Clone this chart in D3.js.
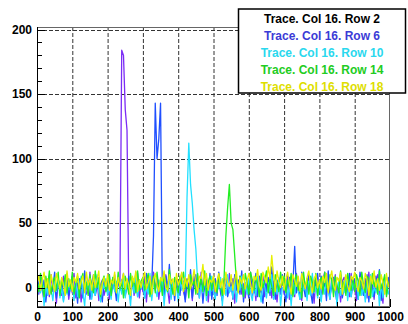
<!DOCTYPE html>
<html><head><meta charset="utf-8">
<script src="https://cdn.jsdelivr.net/npm/d3@7"></script>
<style>html,body{margin:0;padding:0;background:#fff;}svg{display:block;}</style>
</head><body><svg id="c" width="408" height="324"></svg>
<script>
const seriesNames = ["Trace. Col 16. Row 2","Trace. Col 16. Row 6","Trace. Col 16. Row 10","Trace. Col 16. Row 14","Trace. Col 16. Row 18"];
const xStep = 5;
const xTicks = [0,100,200,300,400,500,600,700,800,900,1000];
const yTicks = [0,50,100,150,200];
const row2 = [
3,-5,8,-2,-10,6,1,-7,10,-3,4,-12,7,0,-6,9,-1,5,-9,2,
-4,11,-8,3,6,-11,1,8,-5,-2,12,-7,4,-3,9,-10,2,6,-6,0,
7,-9,5,-1,10,-4,3,5,184,180,138,122,-4,-6,8,-6,2,11,-8,4,
-3,9,-11,6,1,-5,12,-2,7,-9,3,5,-7,10,-1,-12,6,2,-4,8,
-6,4,11,-3,-9,7,0,5,-10,9,-2,3,-8,12,-5,1,6,-11,4,-1,
8,-7,2,10,-4,-9,5,1,-6,11,-3,7,-12,4,0,9,-5,3,-8,6,
-2,12,-6,4,-10,7,1,-4,9,-7,3,-1,10,-8,5,2,-11,6,-3,8,
-5,3,9,-9,1,6,-7,11,-2,4,-10,8,0,-6,10,-3,5,-12,7,1,
4,-8,6,12,-4,2,-9,7,-1,10,-6,3,-11,5,8,-3,1,-7,11,-2,
6,-10,3,9,-5,0,7,-8,12,-4,2,-9,5,10,-6,1,-12,8,-3,4,
-1];
const row6 = [
-7,4,10,-2,6,-11,2,9,-4,0,12,-8,5,-3,7,-10,3,11,-6,1,
9,-5,2,-12,7,4,-8,13,-1,5,-9,3,10,-6,0,8,-3,-11,6,2,
-4,10,-7,5,1,-10,8,-2,3,11,-6,0,9,-9,4,-3,12,-7,6,-1,
5,-8,11,-4,2,2,40,143,100,115,143,-2,-5,9,-2,18,-7,4,-10,7,
1,-6,9,3,-11,6,-2,14,-8,4,10,-5,0,7,-12,3,8,-4,11,-9,
2,7,-6,12,-3,-10,5,9,-7,1,4,-9,10,-2,6,-5,13,-11,3,0,
-8,6,2,-4,11,-7,9,1,-12,5,-3,8,-6,16,0,-9,4,7,-5,10,
-2,-11,5,8,-6,3,32,-4,7,-9,12,1,-7,4,9,-3,-12,6,2,11,
-5,9,-1,4,-10,13,-6,2,8,-3,-12,6,10,-8,1,5,-4,11,-7,3,
7,-3,-9,12,4,-6,0,10,-11,5,2,-7,9,-2,14,-10,3,6,-5,8,
-2];
const row10 = [
-9,2,-4,7,-14,3,-6,9,-1,-10,5,-3,8,-8,0,-11,6,-5,4,-2,
3,-10,6,-7,1,9,-4,-14,5,-2,8,-9,2,-6,10,-3,-11,4,-1,7,
-6,1,-9,8,-3,5,-11,2,-5,9,-8,4,-2,-14,6,-4,10,-7,3,-1,
5,-8,2,-5,11,-10,3,-1,-7,6,-3,8,-14,1,-4,9,-9,4,-6,2,
-11,7,-2,4,3,70,112,80,65,45,30,5,-8,2,-4,8,-10,3,-6,9,
-3,-9,5,-1,8,-14,2,-6,10,-4,1,-8,6,-11,3,-2,9,-7,4,-5,
7,-4,-10,3,-6,9,-2,-11,5,1,-8,4,-3,10,-9,2,-5,8,-14,0,
-1,6,-8,2,-14,4,-5,9,-3,-9,7,-2,3,-10,5,-6,11,-4,1,-8,
4,-11,2,-5,8,-3,-9,6,-1,3,-14,7,-6,1,-4,9,-10,2,-7,5,
-2,8,-9,4,-6,1,-11,5,-3,10,-7,0,-4,6,-14,3,-8,7,-1,-5,
2];
const row14 = [
6,-3,11,2,-7,9,0,13,-5,4,8,-2,12,-6,5,1,10,-4,7,-1,
12,-5,3,9,-8,6,11,-2,4,-6,10,1,-4,13,0,7,-7,5,9,-3,
2,10,-6,8,4,-3,12,-1,6,-8,9,3,-5,11,1,7,-4,13,-2,5,
8,-2,5,11,-7,3,9,-4,12,0,6,-6,10,2,-3,14,4,-5,8,1,
-4,9,3,12,-1,6,-8,10,2,5,-5,11,0,8,-3,13,-6,4,9,-2,
7,3,-4,10,1,-6,8,40,62,80,50,45,25,5,-3,9,2,-7,11,4,
-5,12,6,-2,9,3,-7,11,0,5,13,-4,8,1,-6,10,4,-3,12,2,
9,-4,6,1,11,-7,5,10,-2,3,-8,12,0,7,-5,9,4,-3,11,-6,
3,8,-5,12,1,-3,10,6,-7,9,2,-4,13,0,5,-6,11,3,-2,8,
-3,10,5,-6,12,2,-4,9,7,-8,11,1,6,-5,13,-1,4,10,-7,3,
6];
const row18 = [
4,9,-2,6,12,0,7,-5,10,3,-3,11,5,-1,8,2,-6,13,1,6,
-3,8,4,11,-1,5,9,-4,12,2,7,-2,10,0,6,13,-5,3,8,1,
10,-2,6,3,12,-4,8,1,5,11,-1,7,2,-6,9,4,13,-3,6,0,
7,12,-1,4,9,-5,6,11,2,-3,8,5,13,0,-2,10,3,7,-6,11,
2,6,12,-3,8,1,10,-1,5,14,3,-4,9,7,18,2,11,-2,6,4,
9,-3,5,11,0,7,-5,12,4,1,10,-2,6,13,-4,8,3,10,-1,5,
11,3,-4,9,6,14,1,-2,12,8,4,16,7,25,10,-3,13,5,0,9,
-2,7,12,3,-5,10,6,1,9,-3,11,4,-1,8,13,2,-4,7,10,0,
6,-1,9,4,11,-4,7,13,2,-2,8,5,12,-5,3,10,1,-3,9,6,
12,2,-3,8,5,-1,11,6,-6,9,3,13,0,7,-2,10,4,-5,11,1,
3];
const seriesValues = [row2,row6,row10,row14,row18];
const lineColors = ["#7b2cf5","#1f4fff","#22e0ff","#22ee22","#e6f000"];
const textColors = ["#000000","#3b3bd6","#2ad8ee","#22cc22","#dede00"];

const svg = d3.select("#c");
const L=37,R=390,T=27,B=307;
const x = d3.scaleLinear().domain([0,1000]).range([L,R]);
const y = d3.scaleLinear().domain([-15,202]).range([B,T]);
const font = "'Liberation Sans', Arial, sans-serif";

svg.append("defs").append("clipPath").attr("id","clip").append("rect")
  .attr("x",L).attr("y",T).attr("width",R-L).attr("height",B-T);

// grid
const g = svg.append("g");
g.selectAll("line.vg").data(xTicks.filter(d=>d>0&&d<1000)).join("line")
  .attr("x1",d=>x(d)+0.5).attr("x2",d=>x(d)+0.5).attr("y1",T).attr("y2",B)
  .attr("stroke","#333").attr("stroke-width",1).attr("stroke-dasharray","4,2");
g.selectAll("line.hg").data(yTicks).join("line")
  .attr("y1",d=>Math.round(y(d))+0.5).attr("y2",d=>Math.round(y(d))+0.5).attr("x1",L).attr("x2",R)
  .attr("stroke","#333").attr("stroke-width",1).attr("stroke-dasharray","4,2");

// lines
const lg = svg.append("g").attr("clip-path","url(#clip)");
const line = d3.line().x((d,i)=>x(i*xStep)).y(d=>y(d));
seriesValues.forEach((vals,k)=>{
  lg.append("path").datum(vals).attr("d",line).attr("fill","none")
    .attr("stroke",lineColors[k]).attr("stroke-width",1.3).attr("stroke-linejoin","round");
});

// frame
svg.append("rect").attr("x",L+0.5).attr("y",T+0.5).attr("width",R-L-1).attr("height",B-T-1)
  .attr("fill","none").attr("stroke","#666").attr("stroke-width",1);
svg.append("line").attr("x1",L+0.5).attr("x2",L+0.5).attr("y1",T).attr("y2",B+1).attr("stroke","#000");
svg.append("line").attr("x1",L).attr("x2",R).attr("y1",B+0.5).attr("y2",B+0.5).attr("stroke","#000");

// axes
const ya = d3.axisLeft(y).tickValues(yTicks).tickSize(0).tickPadding(5).tickFormat(d3.format("d"));
const yAx = svg.append("g").attr("transform",`translate(${L},0)`).call(ya);
yAx.select(".domain").remove();
yAx.selectAll("text").attr("font-family",font).attr("font-weight","bold").attr("font-size",12).attr("fill","#000");
const yMinor = d3.range(-10,201,10);
svg.append("g").selectAll("line").data(yMinor).join("line")
  .attr("x1",L).attr("x2",d=>L+(d%50===0?8:5)).attr("y1",d=>Math.round(y(d))+0.5).attr("y2",d=>Math.round(y(d))+0.5)
  .attr("stroke","#000");

const xa = d3.axisBottom(x).tickValues(xTicks).tickSize(0).tickPadding(5).tickFormat(d3.format("d"));
const xAx = svg.append("g").attr("transform",`translate(0,${B})`).call(xa);
xAx.select(".domain").remove();
xAx.selectAll("text").attr("font-family",font).attr("font-weight","bold").attr("font-size",12).attr("fill","#000");
svg.append("g").selectAll("line").data(d3.range(0,1001,50)).join("line")
  .attr("y1",B).attr("y2",d=>B-(d%100===0?8:5)).attr("x1",d=>Math.round(x(d))+0.5).attr("x2",d=>Math.round(x(d))+0.5)
  .attr("stroke","#000");

// legend
const leg = svg.append("g");
leg.append("rect").attr("x",238.5).attr("y",9).attr("width",167).attr("height",84)
  .attr("fill","#fff").attr("stroke","#000").attr("stroke-width",1.5);
leg.selectAll("text").data(seriesNames).join("text")
  .attr("x",322).attr("y",(d,i)=>23+i*17).attr("text-anchor","middle")
  .attr("font-family",font).attr("font-weight","bold").attr("font-size",12)
  .attr("fill",(d,i)=>textColors[i]).text(d=>d);
</script></body></html>
